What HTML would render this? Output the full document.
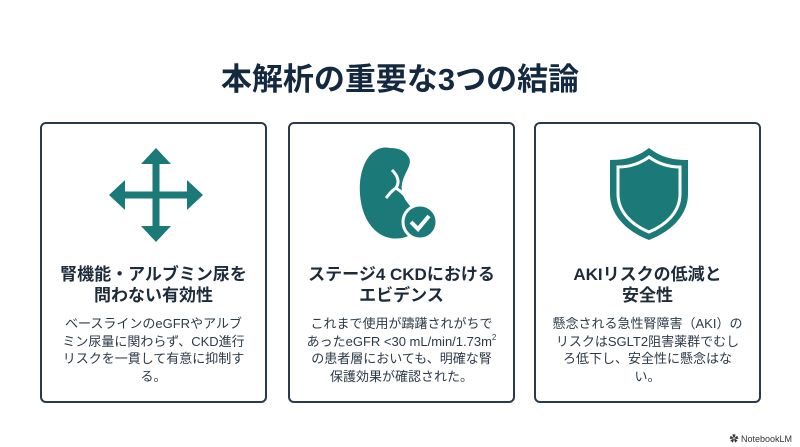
<!DOCTYPE html>
<html><head><meta charset="utf-8"><style>
*{margin:0;padding:0;box-sizing:border-box}
body{width:800px;height:447px;background:#fff;position:relative;overflow:hidden;font-family:"Liberation Sans","Noto Sans CJK JP",sans-serif;color:#1d2b3a}
h1{position:absolute;left:0;width:800px;top:62px;text-align:center;font-size:31px;font-weight:700;color:#14283f;line-height:36px}
.card{position:absolute;top:122px;width:227px;height:281px;border:2px solid #2b3a48;border-radius:6px}
.icon{position:absolute;left:0;top:0}
.t{position:absolute;left:0;width:100%;top:140px;text-align:center;font-size:17px;font-weight:700;line-height:21px;color:#1d2b3a}
.b{position:absolute;left:0;right:0;top:191px;text-align:center;font-size:13px;line-height:17.7px;color:#2c3a48;white-space:nowrap}
sup{font-size:8px;line-height:0;vertical-align:6px}
.logo{position:absolute;right:8px;top:432px;font-size:9px;color:#333}
</style></head><body>
<h1>本解析の重要な3つの結論</h1>

<div class="card" style="left:40px">
<svg class="icon" width="227" height="140" viewBox="0 0 227 140">
<g fill="#1b7a78" transform="translate(114,71)">
<rect x="-3.5" y="-36" width="7" height="72"/>
<rect x="-36" y="-3.5" width="72" height="7"/>
<polygon points="0,-47 -15,-31 15,-31"/>
<polygon points="0,47 -15,31 15,31"/>
<polygon points="-47,0 -31,-15 -31,15"/>
<polygon points="47,0 31,-15 31,15"/>
</g></svg>
<div class="t">腎機能・アルブミン尿を<br>問わない有効性</div>
<div class="b">ベースラインのeGFRやアルブ<br>ミン尿量に関わらず、CKD進行<br>リスクを一貫して有意に抑制す<br>る。</div>
</div>

<div class="card" style="left:288px">
<svg class="icon" width="227" height="140" viewBox="0 0 227 140">
<path fill="#1b7a78" d="M100,24 C80,20 68,44 70,70 C72,100 90,118 112,114 C130,110 132,96 124,86 C116,78 110,70 112,60 C114,48 124,40 118,32 C114,26 108,24 100,24Z"/>
<path d="M102,46 C108,52 110,58 106,64 M106,64 C100,68 98,72 96,74 M106,64 C112,68 116,72 118,76" stroke="#fff" stroke-width="3" fill="none"/>
<circle cx="130" cy="98" r="17" fill="#1b7a78" stroke="#fff" stroke-width="3"/>
<path d="M121,98 L128,105 L139,92" stroke="#fff" stroke-width="4" fill="none"/>
</svg>
<div class="t">ステージ4 CKDにおける<br>エビデンス</div>
<div class="b">これまで使用が躊躇されがちで<br>あったeGFR &lt;30 mL/min/1.73m<sup>2</sup><br>の患者層においても、明確な腎<br>保護効果が確認された。</div>
</div>

<div class="card" style="left:534px">
<svg class="icon" width="227" height="140" viewBox="0 0 227 140">
<path fill="#1b7a78" d="M113,24 C100,34 88,36 74,36 L74,70 C74,92 92,108 113,116 C134,108 152,92 152,70 L152,36 C138,36 126,34 113,24Z"/>
<path fill="none" stroke="#fff" stroke-width="3" d="M113,33 C102,41 92,43 82,43 L82,70 C82,88 96,101 113,108 C130,101 144,88 144,70 L144,43 C134,43 124,41 113,33Z"/>
</svg>
<div class="t">AKIリスクの低減と<br>安全性</div>
<div class="b">懸念される急性腎障害（AKI）の<br>リスクはSGLT2阻害薬群でむし<br>ろ低下し、安全性に懸念はな<br>い。</div>
</div>

<div class="logo">✿ NotebookLM</div>
</body></html>
